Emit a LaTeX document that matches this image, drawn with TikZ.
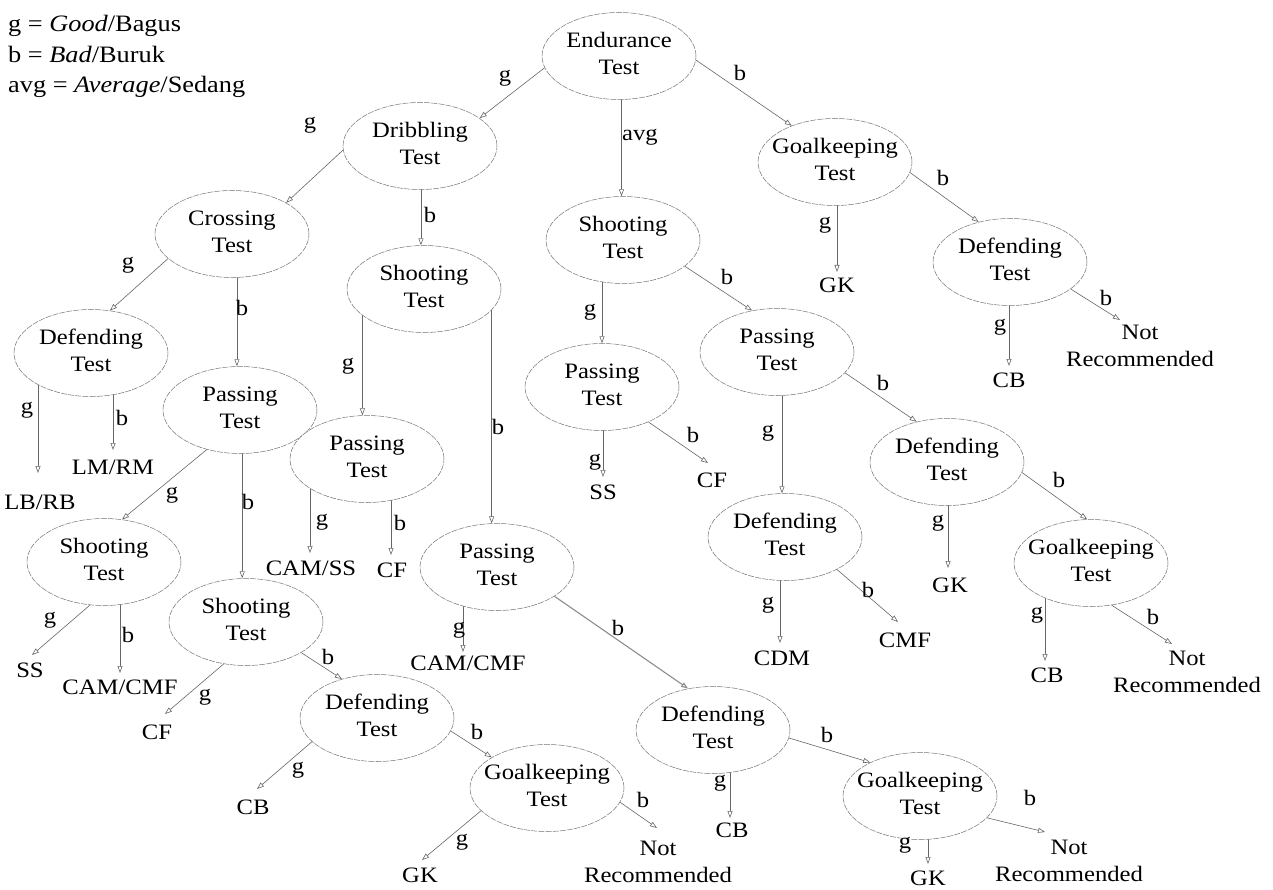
\documentclass[tikz,border=0pt]{standalone}
\usepackage{fontspec}
\setmainfont{Liberation Serif}[FakeStretch=1.12]
\usetikzlibrary{arrows.meta,shapes.geometric}
\pgfdeclarelayer{bg}
\pgfsetlayers{bg,main}
\newcommand\twol[2]{\makebox[0pt]{\begin{tabular}{@{}c@{}}#1\\#2\end{tabular}}}
\begin{document}
\begin{tikzpicture}[x=1pt,y=-1pt,
  test/.style={ellipse, draw=black!55, line width=0.5pt, dash pattern=on 6pt off 1.2pt, fill=white, minimum width=154pt, minimum height=87pt, inner sep=0pt, font=\fontsize{22}{27}\selectfont},
  leaf/.style={inner sep=1pt, align=center, font=\fontsize{22}{27}\selectfont},
  lab/.style={inner sep=0pt, font=\fontsize{22}{26}\selectfont},
  legend/.style={anchor=base west, inner sep=0pt, font=\fontsize{23.5}{28}\selectfont},
  arr/.style={draw=black!60, line width=0.6pt, -{Triangle[open, length=7pt, width=5pt]}},
]
\useasboundingbox (0,0) rectangle (1273,890);

% legend
\node[legend] (lg1) at (8,32) {g = \textit{Good}/Bagus};
\node[legend] (lg2) at (8,63) {b = \textit{Bad}/Buruk};
\node[legend] (lg3) at (8,93) {avg = \textit{Average}/Sedang};

% test nodes
\node[test] (end)   at (619,56)  {\twol{Endurance}{Test}};
\node[test] (drib)  at (420,146) {\twol{Dribbling}{Test}};
\node[test] (gkr)   at (835,162) {\twol{Goalkeeping}{Test}};
\node[test] (cross) at (232,234) {\twol{Crossing}{Test}};
\node[test] (shd)   at (424,289) {\twol{Shooting}{Test}};
\node[test] (sha)   at (623,240) {\twol{Shooting}{Test}};
\node[test] (defr1) at (1010,262) {\twol{Defending}{Test}};
\node[test] (defc1) at (91,353)  {\twol{Defending}{Test}};
\node[test] (pasc2) at (240,410) {\twol{Passing}{Test}};
\node[test] (pasd1) at (367,459) {\twol{Passing}{Test}};
\node[test] (pasa1) at (602,387) {\twol{Passing}{Test}};
\node[test] (pasa2) at (777,352) {\twol{Passing}{Test}};
\node[test] (defa4) at (947,462) {\twol{Defending}{Test}};
\node[test] (shc3)  at (104,562) {\twol{Shooting}{Test}};
\node[test] (shc4)  at (246,622) {\twol{Shooting}{Test}};
\node[test] (pasd2) at (497,567) {\twol{Passing}{Test}};
\node[test] (defa3) at (785,537) {\twol{Defending}{Test}};
\node[test] (gka5)  at (1091,563) {\twol{Goalkeeping}{Test}};
\node[test] (defc5) at (377,718) {\twol{Defending}{Test}};
\node[test] (gkc6)  at (547,788) {\twol{Goalkeeping}{Test}};
\node[test] (defd3) at (713,730) {\twol{Defending}{Test}};
\node[test] (gkd4)  at (920,796) {\twol{Goalkeeping}{Test}};

% leaves
\node[leaf] (gkR)     at (837,285)  {GK};
\node[leaf] (cbR)     at (1009,380) {CB};
\node[leaf] (nrR)     at (1140,346) {Not\\Recommended};
\node[leaf] (lbrb)    at (40,502)   {LB/RB};
\node[leaf] (lmrm)    at (113,467)  {LM/RM};
\node[leaf] (ssA)     at (603,492)  {SS};
\node[leaf] (cfA)     at (712,480)  {CF};
\node[leaf] (camss)   at (311,568)  {CAM/SS};
\node[leaf] (cfD)     at (392,570)  {CF};
\node[leaf] (gkA4)    at (950,585)  {GK};
\node[leaf] (ssC)     at (30,670)   {SS};
\node[leaf] (camcmfC) at (120,687)  {CAM/CMF};
\node[leaf] (cfC)     at (157,732)  {CF};
\node[leaf] (camcmfD) at (468,663)  {CAM/CMF};
\node[leaf] (cdm)     at (782,658)  {CDM};
\node[leaf] (cmf)     at (905,640)  {CMF};
\node[leaf] (cbA5)    at (1047,675) {CB};
\node[leaf] (nrA5)    at (1187,672) {Not\\Recommended};
\node[leaf] (cbC5)    at (253,807)  {CB};
\node[leaf] (cbD3)    at (732,830)  {CB};
\node[leaf] (gkC6)    at (420,875)  {GK};
\node[leaf] (nrC6)    at (658,862)  {Not\\Recommended};
\node[leaf] (gkD4)    at (928,878)  {GK};
\node[leaf] (nrD4)    at (1069,861) {Not\\Recommended};

% arrow end points at leaves
\coordinate (tgkR)  at (837,272);
\coordinate (tcbR)  at (1009,366);
\coordinate (tnrR)  at (1120,320);
\coordinate (tlbrb) at (38,473);
\coordinate (tlmrm) at (113,450);
\coordinate (tcamss) at (310,553);
\coordinate (tcfD)  at (391,555);
\coordinate (tssA)  at (603,477);
\coordinate (tcfA)  at (708,463);
\coordinate (tgkA4) at (948,568);
\coordinate (tssC)  at (32,655);
\coordinate (tcamcmfC) at (120,673);
\coordinate (tcfC)  at (165,714);
\coordinate (tcamcmfD) at (463,652);
\coordinate (tcdm)  at (780,643);
\coordinate (tcmf)  at (898,622);
\coordinate (tcbA5) at (1045,661);
\coordinate (tnrA5) at (1172,644);
\coordinate (tcbC5) at (257,789);
\coordinate (tcbD3) at (730,818);
\coordinate (tgkC6) at (422,860);
\coordinate (tnrC6) at (657,828);
\coordinate (tgkD4) at (928,864);
\coordinate (tnrD4) at (1045,832);

% connectors
\begin{pgfonlayer}{bg}
\draw[arr] (end.189) -- (drib.25);
\draw[arr] (end.357) -- (gkr.140);
\draw[arr] (sha.92 |- end.center) -- (sha.92);
\draw[arr] (drib.183) -- (cross.30);
\draw[arr] (shd.94 |- drib.center) -- (shd.94);
\draw[arr] (tgkR |- gkr.center) -- (tgkR);
\draw[arr] (gkr.352) -- (defr1.128);
\draw[arr] (tcbR |- defr1.center) -- (tcbR);
\draw[arr] (defr1.336) -- (tnrR);
\draw[arr] (cross.201) -- (defc1.66);
\draw[arr] (pasc2.94 |- cross.center) -- (pasc2.94);
\draw[arr] (pasa1.90 |- sha.center) -- (pasa1.90);
\draw[arr] (sha.337) -- (pasa2.121);
\draw[arr] (pasd1.96 |- shd.center) -- (pasd1.96);
\draw[arr] (pasd2.97 |- shd.center) -- (pasd2.97);
\draw[arr] (tlbrb |- defc1.center) -- (tlbrb);
\draw[arr] (tlmrm |- defc1.center) -- (tlmrm);
\draw[arr] (pasc2.230) -- (shc3.67);
\draw[arr] (shc4.95 |- pasc2.center) -- (shc4.95);
\draw[arr] (tcamss |- pasd1.center) -- (tcamss);
\draw[arr] (tcfD |- pasd1.center) -- (tcfD);
\draw[arr] (tssA |- pasa1.center) -- (tssA);
\draw[arr] (pasa1.323) -- (tcfA);
\draw[arr] (defa3.94 |- pasa2.center) -- (defa3.94);
\draw[arr] (pasa2.343) -- (defa4.127);
\draw[arr] (tgkA4 |- defa4.center) -- (tgkA4);
\draw[arr] (defa4.352) -- (gka5.95);
\draw[arr] (shc3.252) -- (tssC);
\draw[arr] (tcamcmfC |- shc3.center) -- (tcamcmfC);
\draw[arr] (shc4.242) -- (tcfC);
\draw[arr] (shc4.331) -- (defc5.132);
\draw[arr] (tcamcmfD |- pasd2.center) -- (tcamcmfD);
\draw[arr, line width=1.1pt, draw=black!45] (pasd2.333) -- (defd3.121);
\draw[arr] (tcdm |- defa3.center) -- (tcdm);
\draw[arr] (defa3.328) -- (tcmf);
\draw[arr] (tcbA5 |- gka5.center) -- (tcbA5);
\draw[arr] (gka5.296) -- (tnrA5);
\draw[arr] (defc5.200) -- (tcbC5);
\draw[arr] (defc5.350) -- (gkc6.151);
\draw[arr] (tcbD3 |- defd3.center) -- (tcbD3);
\draw[arr] (defd3.354) -- (gkd4.146);
\draw[arr] (gkc6.199) -- (tgkC6);
\draw[arr] (gkc6.349) -- (tnrC6);
\draw[arr] (tgkD4 |- gkd4.center) -- (tgkD4);
\draw[arr] (gkd4.342) -- (tnrD4);
\end{pgfonlayer}

% edge labels
\node[lab] (l1)  at (505,78)  {g};
\node[lab] (l2)  at (740,73)  {b};
\node[lab] (l3)  at (640,137) {avg};
\node[lab] (l4)  at (310,125) {g};
\node[lab] (l5)  at (430,215) {b};
\node[lab] (l6)  at (825,225) {g};
\node[lab] (l7)  at (943,178) {b};
\node[lab] (l8)  at (1000,327) {g};
\node[lab] (l9)  at (1106,298) {b};
\node[lab] (l10) at (128,265) {g};
\node[lab] (l11) at (242,308) {b};
\node[lab] (l12) at (590,312) {g};
\node[lab] (l13) at (727,277) {b};
\node[lab] (l14) at (348,366) {g};
\node[lab] (l15) at (498,427) {b};
\node[lab] (l16) at (27,410)  {g};
\node[lab] (l17) at (122,418) {b};
\node[lab] (l18) at (172,495) {g};
\node[lab] (l19) at (248,502) {b};
\node[lab] (l20) at (322,522) {g};
\node[lab] (l21) at (400,523) {b};
\node[lab] (l22) at (595,462) {g};
\node[lab] (l23) at (693,435) {b};
\node[lab] (l24) at (768,433) {g};
\node[lab] (l25) at (883,383) {b};
\node[lab] (l26) at (938,523) {g};
\node[lab] (l27) at (1059,480) {b};
\node[lab] (l28) at (50,620)  {g};
\node[lab] (l29) at (128,635) {b};
\node[lab] (l30) at (205,697) {g};
\node[lab] (l31) at (328,657) {b};
\node[lab] (l32) at (459,630) {g};
\node[lab] (l33) at (618,628) {b};
\node[lab] (l34) at (768,605) {g};
\node[lab] (l35) at (868,590) {b};
\node[lab] (l36) at (1037,615) {g};
\node[lab] (l37) at (1153,617) {b};
\node[lab] (l38) at (298,770) {g};
\node[lab] (l39) at (477,732) {b};
\node[lab] (l40) at (720,783) {g};
\node[lab] (l41) at (827,735) {b};
\node[lab] (l42) at (462,842) {g};
\node[lab] (l43) at (643,800) {b};
\node[lab] (l44) at (905,845) {g};
\node[lab] (l45) at (1030,798) {b};
\end{tikzpicture}
\end{document}
